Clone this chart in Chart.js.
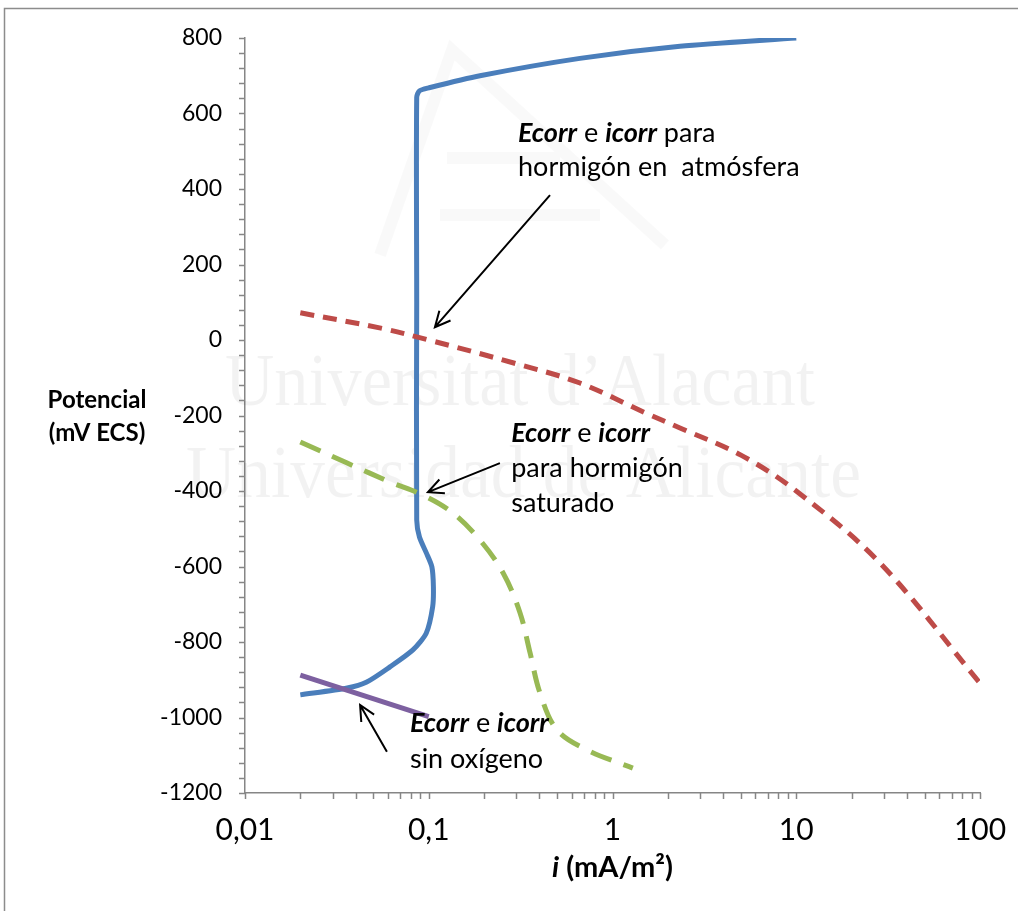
<!DOCTYPE html>
<html>
<head>
<meta charset="utf-8">
<script src="https://cdn.jsdelivr.net/npm/chart.js@4.4.1/dist/chart.umd.min.js"></script>
<style>
  html, body { margin: 0; padding: 0; background: #fff; }
  #wrap { width: 1018px; height: 911px; position: relative; }
</style>
</head>
<body>
<div id="wrap"><canvas id="chartPol" width="1018" height="911"></canvas></div>
<script>
// current density i (mA/m2) and potential (mV ECS) for each curve
const blueI = [0.02, 0.036, 0.046, 0.0615, 0.082, 0.097, 0.105, 0.106, 0.104, 0.097, 0.089, 0.086, 0.086, 0.086, 0.089, 0.1, 0.19, 0.665, 2.33, 10];
const blueE = [-940, -922, -906, -866, -821, -776, -707, -654, -601, -564, -522, -477, 100, 643, 660, 668, 700, 746, 778, 800];

const redI = [0.02, 0.054, 0.1, 0.29, 0.665, 1.54, 2.33, 5, 10, 28.6, 100];
const redE = [72, 32, 0, -61, -114, -195, -233, -305, -400, -591, -909];

const greenI = [0.02, 0.036, 0.0615, 0.093, 0.135, 0.19, 0.254, 0.314, 0.356, 0.403, 0.499, 0.727, 1.29];
const greenE = [-270, -326, -376, -411, -458, -530, -617, -723, -829, -935, -1033, -1086, -1134];

const purpleI = [0.02, 0.1];
const purpleE = [-888, -998];

const xTicks = [0.01, 0.1, 1, 10, 100];
const yMin = -1200, yMax = 800, yStep = 200, yMinor = 40;

const FONT = 'Lato, "Open Sans", sans-serif';

function pts(xs, ys) {
  return xs.map((x, k) => ({ x: x, y: ys[k] }));
}

// annotations in data coordinates: [x, y] of text start / arrow ends
const notes = [
  { at: [0.306, 548], gap: 34, lines: [[['Ecorr', 'bi'], [' e ', 'n'], ['icorr', 'bi'], [' para', 'n']], [['hormigón en  atmósfera', 'n']]] },
  { at: [0.281, -246], gap: 35, lines: [[['Ecorr', 'bi'], [' e ', 'n'], ['icorr', 'bi']], [['para hormigón', 'n']], [['saturado', 'n']]] },
  { at: [0.079, -1015], gap: 36, lines: [[['Ecorr', 'bi'], [' e ', 'n'], ['icorr', 'bi']], [['sin oxígeno', 'n']]] }
];
const arrows = [
  { from: [0.457, 384], to: [0.108, 34] },
  { from: [0.244, -326], to: [0.099, -403] },
  { from: [0.0592, -1091], to: [0.0423, -967] }
];

const extras = {
  id: 'extras',
  beforeDatasetsDraw(chart) {
    const ctx = chart.ctx;
    ctx.save();
    // faint watermark
    ctx.fillStyle = 'rgba(0,0,0,0.05)';
    ctx.font = '74px "Liberation Serif", serif';
    ctx.textBaseline = 'alphabetic';
    const wm = [['Universitat d\u2019Alacant', 225, 405, 590], ['Universidad de Alicante', 186, 497, 675]];
    wm.forEach(w => {
      const m = ctx.measureText(w[0]).width;
      ctx.save();
      ctx.translate(w[1], w[2]);
      ctx.scale(w[3] / m, 1);
      ctx.fillText(w[0], 0, 0);
      ctx.restore();
    });
    ctx.strokeStyle = 'rgba(0,0,0,0.025)';
    ctx.lineWidth = 12;
    ctx.beginPath();
    ctx.moveTo(380, 255); ctx.lineTo(452, 50); ctx.lineTo(665, 245);
    ctx.moveTo(447, 158); ctx.lineTo(560, 158);
    ctx.moveTo(440, 215); ctx.lineTo(600, 215);
    ctx.stroke();
    ctx.restore();
  },
  afterDraw(chart) {
    const ctx = chart.ctx;
    const xs = chart.scales.x, ys = chart.scales.y;
    const area = chart.chartArea;
    ctx.save();
    // outer frame
    ctx.strokeStyle = '#8c8c8c';
    ctx.lineWidth = 1.5;
    ctx.beginPath();
    ctx.moveTo(4.5, 911); ctx.lineTo(4.5, 8.5); ctx.lineTo(1018, 8.5);
    ctx.stroke();

    // tick marks
    ctx.strokeStyle = '#868686';
    ctx.lineWidth = 1.5;
    ctx.beginPath();
    for (let v = yMin; v <= yMax; v += yMinor) {
      const py = Math.round(ys.getPixelForValue(v)) + 0.5;
      ctx.moveTo(area.left - 6, py); ctx.lineTo(area.left, py);
    }
    for (let d = 0.01; d < 100; d *= 10) {
      for (let k = 1; k <= 10; k++) {
        const v = d * k;
        if (v > 100.0001) break;
        const px = Math.round(xs.getPixelForValue(v)) + 0.5;
        ctx.moveTo(px, area.bottom); ctx.lineTo(px, area.bottom + 6);
      }
    }
    ctx.stroke();

    // axis titles
    ctx.fillStyle = '#000';
    ctx.textAlign = 'center';
    ctx.textBaseline = 'middle';
    ctx.font = 'bold 24px ' + FONT;
    ctx.fillText('Potencial', 97, 400);
    ctx.fillText('(mV ECS)', 97, 433);
    const t1 = 'i', t2 = ' (mA/m\u00b2)';
    ctx.font = 'italic bold 29px ' + FONT;
    const w1 = ctx.measureText(t1).width;
    ctx.font = 'bold 29px ' + FONT;
    const w2 = ctx.measureText(t2).width;
    let tx = (area.left + area.right) / 2 - (w1 + w2) / 2;
    ctx.textAlign = 'left';
    ctx.font = 'italic bold 29px ' + FONT;
    ctx.fillText(t1, tx, 868);
    ctx.font = 'bold 29px ' + FONT;
    ctx.fillText(t2, tx + w1, 868);

    // annotation texts
    notes.forEach(n => {
      const x0 = xs.getPixelForValue(n.at[0]);
      const y0 = ys.getPixelForValue(n.at[1]);
      n.lines.forEach((line, li) => {
        let x = x0;
        line.forEach(seg => {
          ctx.font = (seg[1] === 'bi' ? 'italic bold ' : '') + '27px ' + FONT;
          ctx.fillText(seg[0], x, y0 + li * n.gap);
          x += ctx.measureText(seg[0]).width;
        });
      });
    });

    // arrows
    ctx.strokeStyle = '#000';
    ctx.lineWidth = 2;
    arrows.forEach(a => {
      const x1 = xs.getPixelForValue(a.from[0]), y1 = ys.getPixelForValue(a.from[1]);
      const x2 = xs.getPixelForValue(a.to[0]), y2 = ys.getPixelForValue(a.to[1]);
      const ang = Math.atan2(y2 - y1, x2 - x1);
      const hl = 17, ha = 0.45;
      ctx.beginPath();
      ctx.moveTo(x1, y1); ctx.lineTo(x2, y2);
      ctx.moveTo(x2 - hl * Math.cos(ang - ha), y2 - hl * Math.sin(ang - ha));
      ctx.lineTo(x2, y2);
      ctx.lineTo(x2 - hl * Math.cos(ang + ha), y2 - hl * Math.sin(ang + ha));
      ctx.stroke();
    });
    ctx.restore();
  }
};

new Chart(document.getElementById('chartPol'), {
  type: 'scatter',
  data: {
    datasets: [
      { label: 'atmósfera', data: pts(redI, redE), borderColor: '#BE4B48', borderWidth: 5, borderDash: [14, 9], tension: 0.35 },
      { label: 'saturado', data: pts(greenI, greenE), borderColor: '#98B954', borderWidth: 5, borderDash: [22, 13], tension: 0.35 },
      { label: 'sin oxígeno', data: pts(purpleI, purpleE), borderColor: '#7D60A0', borderWidth: 5, tension: 0 },
      { label: 'acero', data: pts(blueI, blueE), borderColor: '#4A7EBB', borderWidth: 5, tension: 0.25 }
    ]
  },
  options: {
    responsive: false,
    animation: false,
    devicePixelRatio: 1,
    showLine: true,
    elements: { point: { radius: 0, hoverRadius: 0 }, line: { borderCapStyle: 'butt', borderJoinStyle: 'round' } },
    layout: { padding: { left: 0, right: 38, top: 38, bottom: 0 } },
    plugins: {
      legend: { display: false },
      tooltip: { enabled: false }
    },
    scales: {
      x: {
        type: 'logarithmic',
        min: 0.01,
        max: 100,
        afterBuildTicks: s => { s.ticks = xTicks.map(v => ({ value: v })); },
        afterFit: s => { s.height = 118; s.paddingLeft = 0; s.paddingRight = 0; },
        grid: { display: false, drawTicks: false },
        border: { display: true, color: '#868686', width: 1.5 },
        ticks: {
          color: '#000',
          font: { family: FONT, size: 30 },
          padding: 19,
          maxRotation: 0,
          autoSkip: false,
          callback: v => String(v).replace('.', ',')
        }
      },
      y: {
        min: yMin,
        max: yMax,
        afterFit: s => { s.width = 245; s.paddingTop = 0; s.paddingBottom = 0; },
        grid: { display: false, drawTicks: false },
        border: { display: true, color: '#868686', width: 1.5 },
        ticks: {
          stepSize: yStep,
          color: '#000',
          font: { family: FONT, size: 23 },
          padding: 23,
          callback: v => String(v)
        }
      }
    }
  },
  plugins: [extras]
});
</script>
</body>
</html>
